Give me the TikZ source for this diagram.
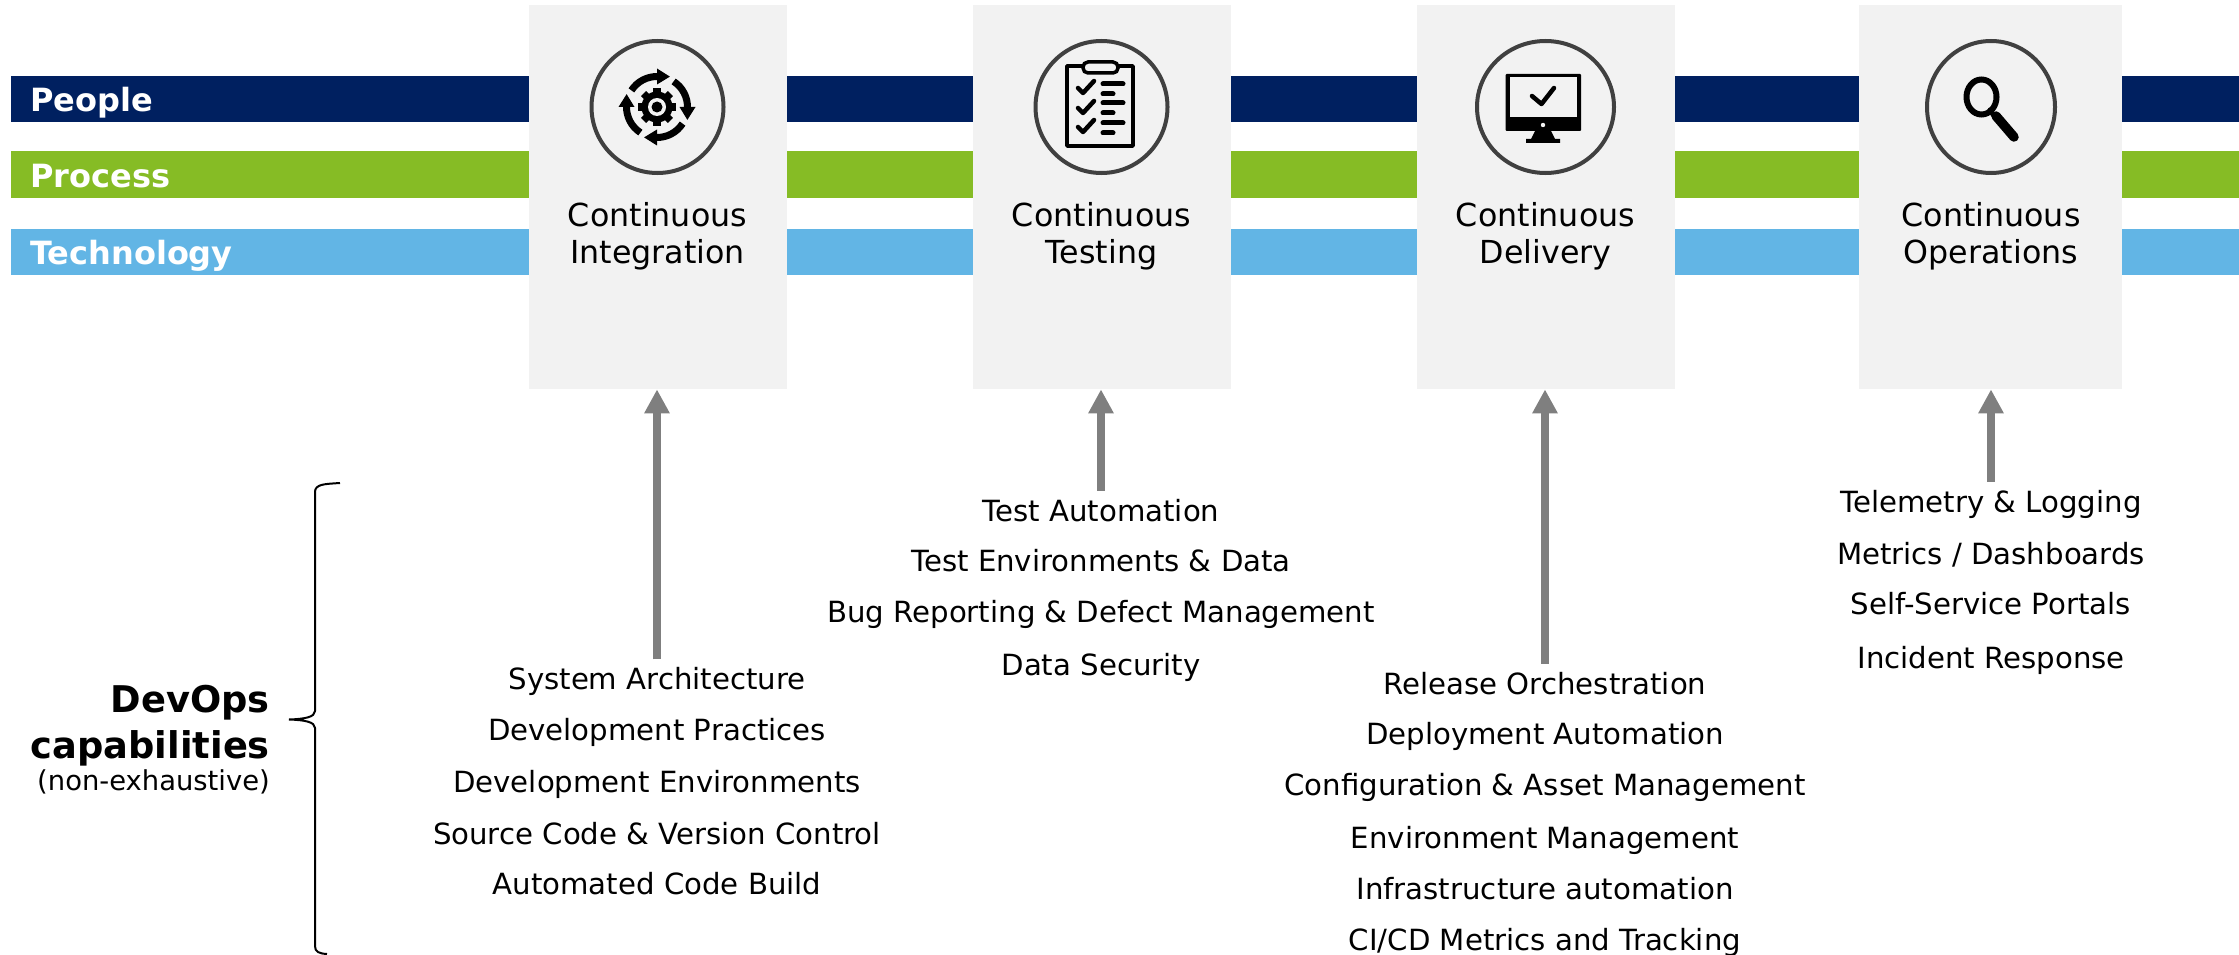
\documentclass[tikz,border=0pt]{standalone}
\usepackage{fontspec}
\setmainfont{DejaVu Sans}
\usetikzlibrary{arrows.meta,shapes.geometric}
\definecolor{navybar}{HTML}{002060}
\definecolor{greenbar}{HTML}{86BC25}
\definecolor{bluebar}{HTML}{62B5E5}
\definecolor{boxbg}{HTML}{F2F2F2}
\definecolor{ringcol}{HTML}{404040}
\definecolor{arrowcol}{HTML}{7F7F7F}
\tikzset{
  bar/.style={anchor=west,minimum width=2228pt,minimum height=46pt,inner xsep=19pt,inner ysep=0pt,
    text width=2190pt,align=left,text=white,text height=25pt,text depth=0pt,font=\fontsize{32}{36}\selectfont\bfseries},
  stagebox/.style={rectangle,fill=boxbg,anchor=north west,inner sep=0pt},
  ring/.style={ellipse,draw=ringcol,line width=4pt,inner sep=0pt},
  stagetitle/.style={align=center,inner sep=0pt,font=\fontsize{31.7}{37}\selectfont},
  listitem/.style={anchor=base,text height=22pt,text depth=7pt,inner ysep=8pt,inner xsep=0pt,
    font=\fontsize{29.2}{34}\selectfont},
  feed/.style={draw=arrowcol,line width=8pt,-{Triangle[length=24pt,width=24pt]}},
  iconpen/.style={draw=black,line cap=round,line join=round},
}
\begin{document}
\begin{tikzpicture}[x=1pt,y=-1pt]
\useasboundingbox (0,0) rectangle (2239,955);
% bars
\node[bar,fill=navybar]  (people)  at (11,99)  {People};
\node[bar,fill=greenbar] (process) at (11,174.5)   {Process};
\node[bar,fill=bluebar]  (tech)    at (11,251.5)   {Technology};
% boxes
\node[stagebox,minimum width=258pt,minimum height=384pt] (box1) at (529,5)  {};
\node[stagebox,minimum width=258pt,minimum height=384pt] (box2) at (973,5)  {};
\node[stagebox,minimum width=258pt,minimum height=384pt] (box3) at (1417,5) {};
\node[stagebox,minimum width=263pt,minimum height=384pt] (box4) at (1859,5) {};
% rings
\node[ring,minimum width=132pt,minimum height=132pt] (ring1) at (657.5,107)  {};
\node[ring,minimum width=132pt,minimum height=132pt] (ring2) at (1101.5,107) {};
\node[ring,minimum width=137pt,minimum height=132pt] (ring3) at (1545.5,107) {};
\node[ring,minimum width=128pt,minimum height=132pt] (ring4) at (1991,107) {};
% titles
\node[stagetitle] (title1) at (657.5,236.5)  {Continuous\\Integration};
\node[stagetitle] (title2) at (1101.5,236.5) {Continuous\\Testing};
\node[stagetitle] (title3) at (1545.5,236.5) {Continuous\\Delivery};
\node[stagetitle] (title4) at (1991,236.5)   {Continuous\\Operations};
% gear icon
\begin{scope}[shift={(657,107)},x=1pt,y=1pt]
  \foreach \r in {0,-90,-180,-270}{
    \begin{scope}[rotate=\r]
      \draw[line width=7pt,black] (147:30.5) arc[start angle=147,end angle=88,radius=30.5];
      \fill[black] (90:22.5) -- (90:38.5) -- (67:33) -- cycle;
    \end{scope}
  }
  \foreach \r in {0,45,...,315}{
    \fill[black,rotate=\r] (-3.6,12) rectangle (3.6,19) ;
  }
  \fill[black] (0,0) circle[radius=15.5];
  \fill[boxbg] (0,0) circle[radius=9];
  \fill[black] (0,0) circle[radius=5.5];
\end{scope}
% clipboard icon
\draw[iconpen,line width=3.5pt] (1067,66) rectangle (1133,146);
\draw[draw=black,fill=boxbg,line width=3.5pt,rounded corners=5pt] (1083,62) rectangle (1118,73);
\foreach \y in {88,108,127}{
  \draw[iconpen,line width=4.5pt] (1078,\y) -- (1083,\y+5) -- (1094,\y-7);
}
\foreach \y in {84,103,123}{
  \draw[iconpen,line width=5pt] (1103,\y) -- (1123,\y);
  \draw[iconpen,line width=5pt] (1103,\y+10) -- (1113,\y+10);
}
% monitor icon
\fill[black,rounded corners=1pt] (1505.5,74) rectangle (1581,131);
\fill[boxbg] (1509.5,77.5) rectangle (1577,117);
\fill[boxbg] (1543,125) circle[radius=2.2];
\fill[black] (1535,131) -- (1551,131) -- (1555,139) -- (1560,139) -- (1560,143) -- (1526,143) -- (1526,139) -- (1531,139) -- cycle;
\draw[iconpen,line width=4.5pt] (1532,96) -- (1541.5,104) -- (1554,88);
% magnifier icon
\draw[draw=black,line width=6pt] (1981.5,97) ellipse[x radius=15,y radius=17.5];
\draw[iconpen,line width=5pt] (1990,110) -- (1997,120);
\draw[iconpen,line width=9.5pt] (1996,116) -- (2014,137);
% lists
\node[listitem] (i1) at (657,689.5) {System Architecture};
\node[listitem] (i2) at (657,740.5) {Development Practices};
\node[listitem] (i3) at (657,792.5) {Development Environments};
\node[listitem] (i4) at (657,844.5) {Source Code \& Version Control};
\node[listitem] (i5) at (657,894.5) {Automated Code Build};
\node[listitem] (t1) at (1101,521) {Test Automation};
\node[listitem] (t2) at (1101,571) {Test Environments \& Data};
\node[listitem] (t3) at (1101,622) {Bug Reporting \& Defect Management};
\node[listitem] (t4) at (1101,675) {Data Security};
\node[listitem] (d1) at (1545,694) {Release Orchestration};
\node[listitem] (d2) at (1545,744) {Deployment Automation};
\node[listitem] (d3) at (1545,795) {Configuration \& Asset Management};
\node[listitem] (d4) at (1545,848.5) {Environment Management};
\node[listitem] (d5) at (1545,899) {Infrastructure automation};
\node[listitem] (d6) at (1545,950) {CI/CD Metrics and Tracking};
\node[listitem] (o1) at (1991,512) {Telemetry \& Logging};
\node[listitem] (o2) at (1991,564) {Metrics / Dashboards};
\node[listitem] (o3) at (1991,614) {Self-Service Portals};
\node[listitem] (o4) at (1991,668) {Incident Response};
% arrows
\draw[feed] (i1.north) -- (i1.north |- box1.south);
\draw[feed] (t1.north) -- (t1.north |- box2.south);
\draw[feed] (d1.north) -- (d1.north |- box3.south);
\draw[feed] (o1.north) -- (o1.north |- box4.south);
% DevOps label
\node[anchor=east,inner sep=0pt,font=\fontsize{36.8}{42}\selectfont\bfseries] (devops) at (270,703) {DevOps};
\node[anchor=east,inner sep=0pt,font=\fontsize{36.8}{42}\selectfont\bfseries] (capab) at (270,748.5) {capabilities};
\node[anchor=east,inner sep=0pt,font=\fontsize{27.4}{30}\selectfont] (nonex) at (270,782) {(non-exhaustive)};
% brace
\draw[black,line width=2pt] (340,483) .. controls (325,484) and (315,484) .. (315,492)
  -- (315,711) .. controls (315,717) and (305,719) .. (289,719.5)
  .. controls (305,720) and (315,722) .. (315,728)
  -- (315,946) .. controls (315,952) and (319,953.5) .. (327,954);
\end{tikzpicture}
\end{document}
